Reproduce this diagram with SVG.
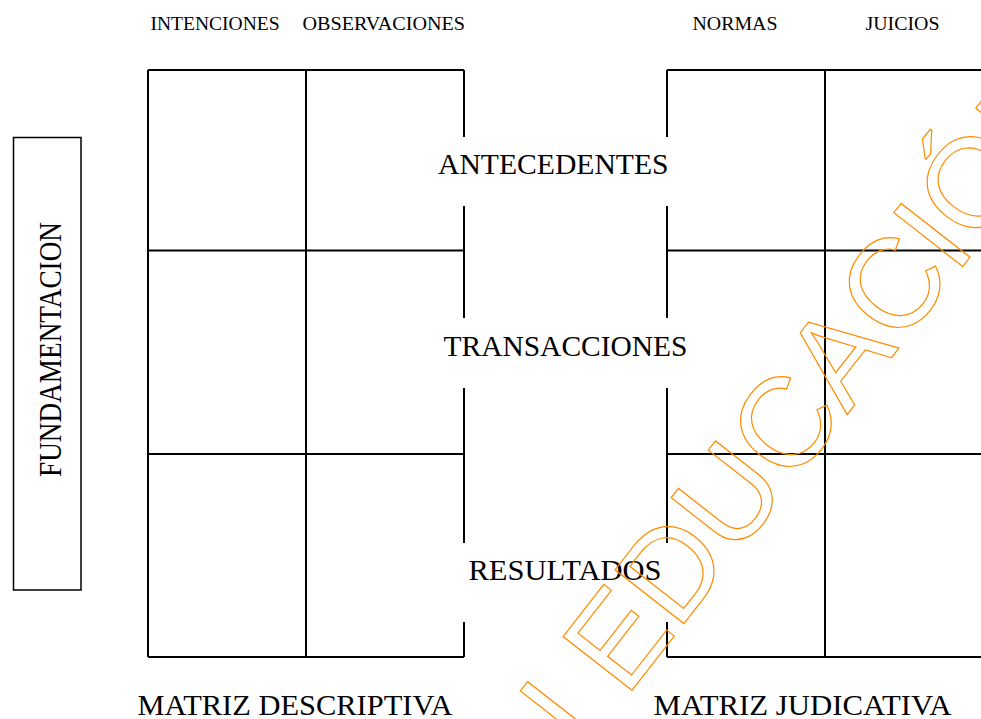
<svg xmlns="http://www.w3.org/2000/svg" width="981" height="719" viewBox="0 0 981 719">
<style>
.ln{stroke:#000;stroke-width:2;fill:none;stroke-linecap:butt}
.big{font-family:"Liberation Serif","Times New Roman",serif;font-size:29.5px;fill:#000}
.hd{font-family:"Liberation Serif","Times New Roman",serif;font-size:19.5px;fill:#000}
.wm{font-family:"Liberation Sans",Arial,sans-serif;font-size:127px;fill:none;stroke:#FF8C00;stroke-width:1.2}
</style>
<rect width="981" height="719" fill="#fff"/>
<g id="headers">
<text class="hd" x="150.5" y="29.5" textLength="129" lengthAdjust="spacingAndGlyphs">INTENCIONES</text>
<text class="hd" x="302.5" y="29.5" textLength="162.5" lengthAdjust="spacingAndGlyphs">OBSERVACIONES</text>
<text class="hd" x="692.5" y="29.5" textLength="85" lengthAdjust="spacingAndGlyphs">NORMAS</text>
<text class="hd" x="865.5" y="29.5" textLength="74" lengthAdjust="spacingAndGlyphs">JUICIOS</text>
</g>
<g id="matriz-descriptiva">
<path class="ln" d="M148,70H464M148,657H464M148,250.5H464M148,454H464M148,70V657M306,70V657M464,70V137M464,206V318M464,388V543M464,622V657"/>
</g>
<g id="matriz-judicativa">
<path class="ln" d="M667,70H981M667,657H981M667,250.5H981M667,454H981M825,70V657M667,70V137M667,206V318M667,388V543M667,622V657"/>
</g>
<g id="fundamentacion">
<rect x="13.5" y="137.5" width="67.5" height="452.5" fill="none" stroke="#000" stroke-width="1.5"/>
<text class="big" transform="translate(61,477) rotate(-90)" style="font-size:31px" textLength="255" lengthAdjust="spacingAndGlyphs">FUNDAMENTACION</text>
</g>
<g id="filas">
<text class="big" x="438" y="174" textLength="230.5" lengthAdjust="spacingAndGlyphs">ANTECEDENTES</text>
<text class="big" x="443.5" y="355.5" textLength="244" lengthAdjust="spacingAndGlyphs">TRANSACCIONES</text>
<text class="big" x="468.5" y="580" textLength="193" lengthAdjust="spacingAndGlyphs">RESULTADOS</text>
</g>
<g id="pies">
<text class="big" x="137.5" y="715" textLength="315" lengthAdjust="spacingAndGlyphs">MATRIZ DESCRIPTIVA</text>
<text class="big" x="653.5" y="715" textLength="298" lengthAdjust="spacingAndGlyphs">MATRIZ JUDICATIVA</text>
</g>
<g id="connectors"/>
<g id="watermark">
<text class="wm" transform="translate(582,754) rotate(-52)">I EDUCACIÓN</text>
</g>
</svg>
